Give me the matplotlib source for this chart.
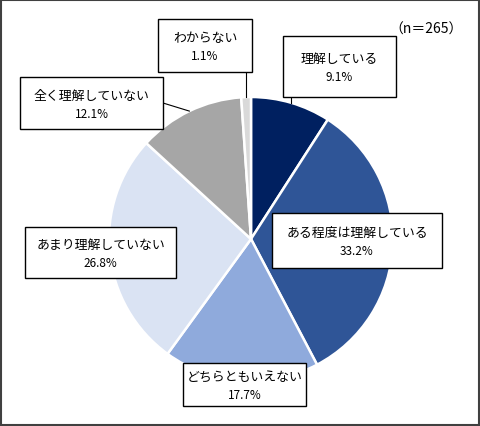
import matplotlib.pyplot as plt
from matplotlib.patches import Rectangle
import numpy as np

plt.rcParams['font.family'] = ['Noto Sans CJK JP', 'DejaVu Sans']

# data
labels = ['理解している', 'ある程度は理解している', 'どちらともいえない',
          'あまり理解していない', '全く理解していない', 'わからない']
shares = [9.1, 33.2, 17.7, 26.8, 12.1, 1.1]
colors = ['#002060', '#2F5597', '#8FAADC', '#DAE3F3', '#A6A6A6', '#D9D9D9']
n_note = '（n＝265）'

W, H = 480, 427
fig = plt.figure(figsize=(W / 100, H / 100), dpi=100)
ax = fig.add_axes([0, 0, 1, 1])

# pie centre / radius in pixel units (y measured from bottom)
cx, cy, r = 251, H - 240, 142
ax.pie(shares, colors=colors, startangle=90, counterclock=False,
       center=(cx, cy), radius=r, frame=True,
       wedgeprops=dict(edgecolor='white', linewidth=1.8))
ax.set_xlim(0, W)
ax.set_ylim(0, H)
ax.set_aspect('equal')
ax.axis('off')

# label boxes: (left, top, right, bottom) in pixel coords from top-left
boxes = [(283, 37, 396, 98), (272, 214, 442, 269), (183, 364, 306, 407),
         (25, 228, 176, 279), (20, 78, 163, 130), (158, 20, 252, 73)]
leaders = [True, False, False, False, True, True]

cum = np.cumsum([0] + shares[:-1])
for lab, s, c0, box, lead in zip(labels, shares, cum, boxes, leaders):
    x0, y0, x1, y1 = box
    ax.add_patch(Rectangle((x0, H - y1), x1 - x0, y1 - y0, facecolor='white',
                           edgecolor='black', linewidth=1.0, zorder=5))
    xm = (x0 + x1) / 2
    ym = H - (y0 + y1) / 2
    ax.text(xm, ym + 8, lab, ha='center', va='center', fontsize=9.3, zorder=6)
    ax.text(xm, ym - 10, f'{s:.1f}%', ha='center', va='center', fontsize=8.5, zorder=6)
    if lead:
        ang = np.deg2rad((c0 + s / 2) / 100 * 360)
        px, py = cx + r * np.sin(ang), cy + r * np.cos(ang)
        # attach to the nearest box edge
        if x0 < px < x1:
            bx, by = px, H - y1
        else:
            bx = x1 if px > x1 else x0
            by = H - (y0 + y1) / 2
        ax.plot([px, bx], [py, by], color='black', linewidth=0.8, zorder=4)

ax.text(463, H - 30, n_note, ha='right', va='center', fontsize=10)

ax.add_patch(Rectangle((1, 1), W - 2, H - 2, facecolor='none',
                       edgecolor='#404040', linewidth=1.5, zorder=10))

fig.savefig('out.png', dpi=100)
